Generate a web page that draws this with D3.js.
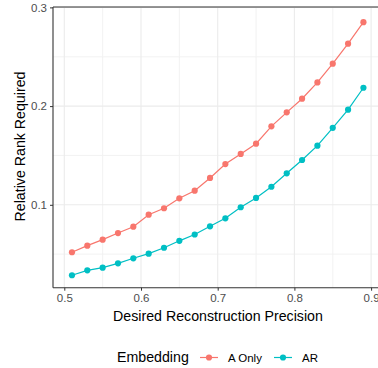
<!DOCTYPE html>
<html><head><meta charset="utf-8">
<script src="https://cdn.jsdelivr.net/npm/d3@7"></script>
<style>body{margin:0;background:#fff}svg{display:block;font-family:"Liberation Sans",Arial,sans-serif}</style>
</head><body><svg id="c" width="378" height="368"></svg>
<script>
const precision = [0.51,0.53,0.55,0.57,0.59,0.61,0.63,0.65,0.67,0.69,0.71,0.73,0.75,0.77,0.79,0.81,0.83,0.85,0.87,0.89];
const aOnly = [0.0519,0.0586,0.0647,0.0714,0.0778,0.0900,0.0965,0.1066,0.1143,0.1272,0.1413,0.1515,0.1619,0.1795,0.1937,0.2075,0.2240,0.2430,0.2632,0.2850];
const ar = [0.0286,0.0336,0.0363,0.0407,0.0458,0.0505,0.0565,0.0635,0.0699,0.0782,0.0863,0.0975,0.1070,0.1183,0.1319,0.1454,0.1599,0.1780,0.1964,0.2186];
const seriesNames = ["A Only","AR"];
const seriesColors = ["#F8766D","#00BFC4"];
const xTicks = [0.5,0.6,0.7,0.8,0.9];
const yTicks = [0.1,0.2,0.3];
const xMinor = [0.55,0.65,0.75,0.85];
const yMinor = [0.05,0.15,0.25];

const svg = d3.select("#c");
const L = 53, T = 7, B = 287.7, R = 395;
const x = d3.scaleLinear().domain([0.5,0.9]).range([64.3,371.1]);
const y = d3.scaleLinear().domain([0,0.3]).range([303.5,7.4]);

const g = svg.append("g");
// grid
g.selectAll(".xm").data(xMinor).join("line").attr("x1",d=>x(d)).attr("x2",d=>x(d)).attr("y1",T).attr("y2",B).attr("stroke","#f0f0f0").attr("stroke-width",0.9);
g.selectAll(".ym").data(yMinor).join("line").attr("y1",d=>y(d)).attr("y2",d=>y(d)).attr("x1",L).attr("x2",R).attr("stroke","#f0f0f0").attr("stroke-width",0.9);
g.selectAll(".xM").data(xTicks).join("line").attr("x1",d=>x(d)).attr("x2",d=>x(d)).attr("y1",T).attr("y2",B).attr("stroke","#ebebeb").attr("stroke-width",1.1);
g.selectAll(".yM").data(yTicks).join("line").attr("y1",d=>y(d)).attr("y2",d=>y(d)).attr("x1",L).attr("x2",R).attr("stroke","#ebebeb").attr("stroke-width",1.1);

// series
const series = [aOnly, ar];
const line = d3.line().x((d,i)=>x(precision[i])).y(d=>y(d));
series.forEach((vals,k)=>{
  g.append("path").datum(vals).attr("d",line).attr("fill","none").attr("stroke",seriesColors[k]).attr("stroke-width",1.2);
  g.selectAll(".p"+k).data(vals).join("circle").attr("cx",(d,i)=>x(precision[i])).attr("cy",d=>y(d)).attr("r",3.1).attr("fill",seriesColors[k]);
});

// axes
const ax = svg.append("g").attr("transform",`translate(0,${B})`).call(d3.axisBottom(x).tickValues(xTicks).tickFormat(d3.format(".1f")).tickSize(3).tickPadding(3));
const ay = svg.append("g").attr("transform",`translate(${L},0)`).call(d3.axisLeft(y).tickValues(yTicks).tickFormat(d3.format(".1f")).tickSize(3).tickPadding(3));
[ax,ay].forEach(a=>{
  a.select(".domain").remove();
  a.selectAll(".tick line").attr("stroke","#333").attr("stroke-width",1);
  a.selectAll(".tick text").attr("fill","#4d4d4d").style("font-size","11.5px").style("font-family","Liberation Sans, Arial, sans-serif");
});
svg.append("line").attr("x1",L).attr("x2",L).attr("y1",T).attr("y2",B).attr("stroke","#333").attr("stroke-width",1.1);
svg.append("line").attr("x1",L).attr("x2",R).attr("y1",B).attr("y2",B).attr("stroke","#333").attr("stroke-width",1.1);
svg.append("line").attr("x1",L).attr("x2",R).attr("y1",T).attr("y2",T).attr("stroke","#333").attr("stroke-width",1.1);

// titles
svg.append("text").attr("x",218).attr("y",321).attr("text-anchor","middle").style("font-size","14.2px").attr("fill","#000").text("Desired Reconstruction Precision");
svg.append("text").attr("transform","translate(24.5,146.5) rotate(-90)").attr("text-anchor","middle").style("font-size","14.2px").attr("fill","#000").text("Relative Rank Required");

// legend
const lg = svg.append("g");
lg.append("text").attr("x",117).attr("y",362).style("font-size","14.2px").attr("fill","#000").text("Embedding");
const keyX = [200,274];
const labX = [228,302];
seriesNames.forEach((n,k)=>{
  lg.append("line").attr("x1",keyX[k]).attr("x2",keyX[k]+18).attr("y1",357.5).attr("y2",357.5).attr("stroke",seriesColors[k]).attr("stroke-width",1.2);
  lg.append("circle").attr("cx",keyX[k]+9).attr("cy",357.5).attr("r",3.1).attr("fill",seriesColors[k]);
  lg.append("text").attr("x",labX[k]).attr("y",361.5).style("font-size","11.5px").attr("fill","#000").text(n);
});
</script></body></html>
